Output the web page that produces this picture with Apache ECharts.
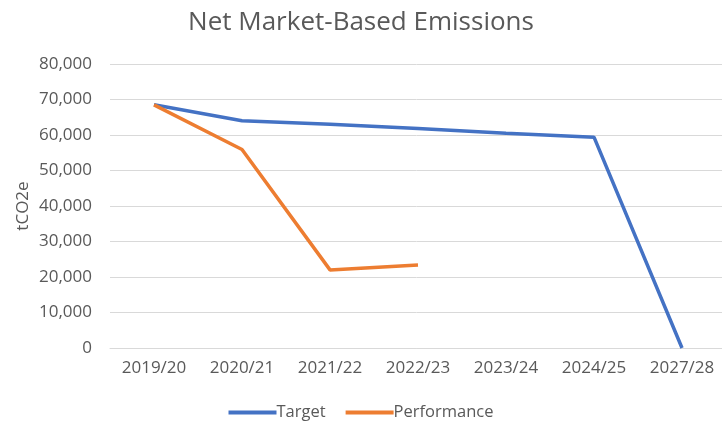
<!DOCTYPE html>
<html>
<head>
<meta charset="utf-8">
<script src="https://cdn.jsdelivr.net/npm/echarts@6/dist/echarts.min.js"></script>
<style>
    html, body { margin: 0; padding: 0; background: #fff; }
    #chart { width: 722px; height: 426px; }
</style>
</head>
<body>
<div id="chart"></div>
<script>
// 数据
const years = ['2019/20', '2020/21', '2021/22', '2022/23', '2023/24', '2024/25', '2027/28'];
const target = [68500, 64000, 63000, 61800, 60500, 59400, 0];
const performance = [68500, 55900, 22000, 23400, null, null, null];

const fontFamily = '"Open Sans", "Noto Sans", sans-serif';
const textColor = '#595959';

const chart = echarts.init(document.getElementById('chart'));
chart.setOption({
    animation: false,
    title: {
        text: 'Net Market-Based Emissions',
        left: 'center',
        top: 5,
        textStyle: { fontFamily: fontFamily, fontSize: 26, fontWeight: 'normal', color: textColor }
    },
    legend: {
        top: 399,
        left: 'center',
        itemWidth: 48,
        itemHeight: 4,
        itemGap: 20,
        icon: 'rect',
        textStyle: { fontFamily: fontFamily, fontSize: 16.5, color: textColor, padding: [0, 0, 0, -5] },
        data: ['Target', 'Performance']
    },
    grid: { left: 110, width: 616, top: 64, height: 284, outerBoundsMode: 'none' },
    xAxis: {
        type: 'category',
        data: years,
        axisLine: { show: true, lineStyle: { color: '#d9d9d9' } },
        axisTick: { show: false },
        axisLabel: { fontFamily: fontFamily, fontSize: 17, color: textColor, margin: 12 }
    },
    yAxis: {
        type: 'value',
        min: 0,
        max: 80000,
        interval: 10000,
        name: 'tCO2e',
        nameLocation: 'middle',
        nameGap: 78,
        nameMoveOverlap: false,
        nameTextStyle: { fontFamily: fontFamily, fontSize: 17, color: textColor },
        axisLine: { show: false },
        axisTick: { show: false },
        axisLabel: {
            fontFamily: fontFamily, fontSize: 17, color: textColor, margin: 18,
            formatter: v => v.toLocaleString('en-US')
        },
        splitLine: { lineStyle: { color: '#d9d9d9', width: 1 } }
    },
    series: [
        {
            name: 'Target',
            type: 'line',
            data: target,
            symbol: 'none',
            lineStyle: { color: '#4472c4', width: 3.5 },
            itemStyle: { color: '#4472c4' }
        },
        {
            name: 'Performance',
            type: 'line',
            data: performance,
            symbol: 'none',
            lineStyle: { color: '#ed7d31', width: 3.5 },
            itemStyle: { color: '#ed7d31' }
        }
    ]
});
</script>
</body>
</html>
